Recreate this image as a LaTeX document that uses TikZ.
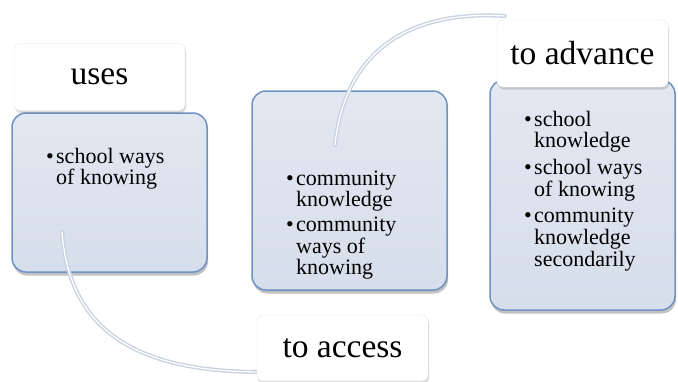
\documentclass[tikz,border=0pt]{standalone}
\usepackage{fontspec}
\setmainfont{Liberation Serif}
\usetikzlibrary{shadows}

\definecolor{panelTop}{HTML}{E2E8F1}
\definecolor{panelBot}{HTML}{D6DEEB}
\definecolor{panelEdge}{HTML}{6F92C3}
\definecolor{tubeEdge}{HTML}{C6D1E1}
\definecolor{labelEdge}{HTML}{E4E4E4}

\tikzset{
  panel/.style={rounded corners=14pt, draw=panelEdge, line width=1.5pt,
    top color=panelTop, bottom color=panelBot, inner sep=0pt,
    drop shadow={shadow xshift=1pt, shadow yshift=-3.5pt, opacity=0.35, fill=black!70}},
  tag/.style={rounded corners=6pt, draw=labelEdge, line width=0.4pt, fill=white,
    minimum width=171pt, minimum height=67pt, inner sep=0pt,
    font=\fontsize{33.5}{36}\selectfont,
    drop shadow={shadow xshift=1pt, shadow yshift=-2.5pt, opacity=0.25, fill=black!60}},
  bullets/.style={anchor=base west, inner sep=0pt, align=left,
    font=\fontsize{22}{21.5}\selectfont},
  tube/.style={draw=tubeEdge, line width=4pt, line cap=round},
  tubelight/.style={draw=white, line width=1.3pt, line cap=round},
}
\newcommand\bul{\makebox[10pt][l]{\textbullet}}

\begin{document}
\begin{tikzpicture}[x=1pt,y=-1pt]
  \useasboundingbox (0,0) rectangle (678,381);

  % content panels
  \node[panel, minimum width=195pt, minimum height=159pt] (p1) at (109.5,192.5) {};
  \node[panel, minimum width=195pt, minimum height=199pt] (p2) at (349.5,190.5) {};
  \node[panel, minimum width=185pt, minimum height=230pt] (p3) at (582.5,195) {};

  % bullet lists
  \node[bullets] (t1) at (46,163) {%
    \begin{tabular}[t]{@{}l@{}l@{}}
      \bul & school ways\\ & of knowing
    \end{tabular}};
  \node[bullets] (t2) at (286,185) {%
    \begin{tabular}[t]{@{}l@{}l@{}}
      \bul & community\\ & knowledge\\[3pt]
      \bul & community\\ & ways of\\ & knowing
    \end{tabular}};
  \node[bullets] (t3) at (524,126) {%
    \begin{tabular}[t]{@{}l@{}l@{}}
      \bul & school\\ & knowledge\\[5pt]
      \bul & school ways\\ & of knowing\\[5pt]
      \bul & community\\ & knowledge\\ & secondarily
    \end{tabular}};

  % connector ends
  \coordinate (c1a) at (62,232);
  \coordinate (c1b) at (262,372);
  \coordinate (c2a) at (335,145);
  \coordinate (c2b) at (505,16);

  % curved connectors
  \draw[tube] (c1a) .. controls (70,340) and (150,372) .. (c1b);
  \draw[tubelight] (c1a) .. controls (70,340) and (150,372) .. (c1b);
  \draw[tube] (c2a) .. controls (345,50) and (410,10) .. (c2b);
  \draw[tubelight] (c2a) .. controls (345,50) and (410,10) .. (c2b);

  % label boxes
  \node[tag] (l1) at (99.5,77) {uses};
  \node[tag] (l2) at (582.5,53.5) {to advance};
  \node[tag, minimum height=66pt] (l3) at (342.5,348) {to access};
\end{tikzpicture}
\end{document}
